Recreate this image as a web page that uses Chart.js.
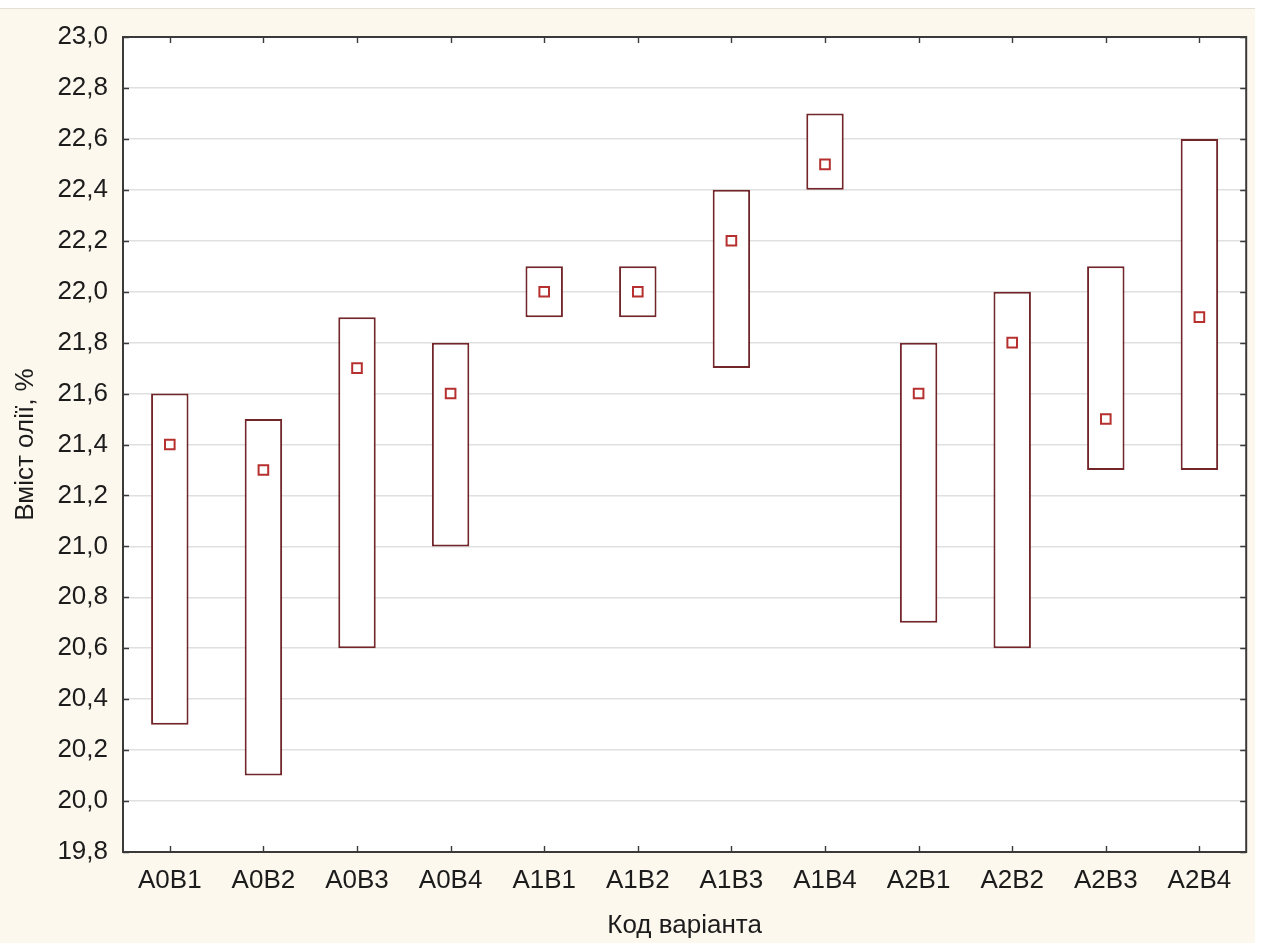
<!DOCTYPE html>
<html>
<head>
<meta charset="utf-8">
<script src="https://cdn.jsdelivr.net/npm/chart.js@4.4.1/dist/chart.umd.min.js"></script>
<style>
  html, body { margin: 0; padding: 0; background: #ffffff; }
  #panel {
    position: absolute; left: 0; top: 8px;
    width: 1255px; height: 935px;
    background: #fdf8ee;
    border-top: 1px solid #e2dfd8;
  }
  #panel canvas { display: block; }
</style>
</head>
<body>
<div id="panel"><canvas id="chart" width="1255" height="934"></canvas></div>
<script>
// Variant codes along the horizontal axis
const categories = ['A0B1','A0B2','A0B3','A0B4','A1B1','A1B2','A1B3','A1B4','A2B1','A2B2','A2B3','A2B4'];
// Mean oil content, %
const means = [21.4, 21.3, 21.7, 21.6, 22.0, 22.0, 22.2, 22.5, 21.6, 21.8, 21.5, 21.9];
// Lower and upper bounds of each box, %
const lows  = [20.3, 20.1, 20.6, 21.0, 21.9, 21.9, 21.7, 22.4, 20.7, 20.6, 21.3, 21.3];
const highs = [21.6, 21.5, 21.9, 21.8, 22.1, 22.1, 22.4, 22.7, 21.8, 22.0, 22.1, 22.6];
// Value axis range and step
const yMin = 19.8, yMax = 23.0, yStep = 0.2;

const fontFamily = '"Liberation Sans", Arial, sans-serif';
const textColor = '#1c1c1c';
const axisColor = '#3a3a3a';

// White plot background behind grid and boxes
const plotBgPlugin = {
  id: 'plotBg',
  beforeDraw(chart) {
    const { ctx, chartArea: a } = chart;
    ctx.save();
    ctx.fillStyle = '#ffffff';
    ctx.fillRect(a.left, a.top, a.right - a.left, a.bottom - a.top);
    ctx.restore();
  }
};

// Frame around the plot with short inward tick marks on all four sides
const framePlugin = {
  id: 'frame',
  afterDatasetsDraw(chart) {
    const { ctx, chartArea: a, scales } = chart;
    const len = 6;
    ctx.save();
    ctx.strokeStyle = axisColor;
    ctx.lineWidth = 1.4;
    ctx.beginPath();
    scales.x.ticks.forEach((t, i) => {
      const px = Math.round(scales.x.getPixelForTick(i)) + 0.5;
      ctx.moveTo(px, a.bottom); ctx.lineTo(px, a.bottom - len);
      ctx.moveTo(px, a.top); ctx.lineTo(px, a.top + len);
    });
    scales.y.ticks.forEach((t, i) => {
      const py = Math.round(scales.y.getPixelForTick(i)) + 0.5;
      ctx.moveTo(a.left, py); ctx.lineTo(a.left + len, py);
      ctx.moveTo(a.right, py); ctx.lineTo(a.right - len, py);
    });
    ctx.stroke();
    ctx.lineWidth = 2;
    ctx.strokeRect(a.left, a.top, a.right - a.left, a.bottom - a.top);
    ctx.restore();
  }
};

new Chart(document.getElementById('chart'), {
  type: 'bar',
  data: {
    labels: categories,
    datasets: [
      {
        type: 'line',
        label: 'mean',
        data: means,
        showLine: false,
        pointStyle: 'rect',
        pointRadius: 6.8,
        pointBorderWidth: 2,
        pointBorderColor: '#b5302e',
        pointBackgroundColor: '#ffffff',
        order: 0
      },
      {
        label: 'range',
        data: lows.map((lo, i) => [lo, highs[i]]),
        backgroundColor: '#ffffff',
        borderColor: '#72262a',
        borderWidth: 2,
        borderSkipped: false,
        categoryPercentage: 1.0,
        barPercentage: 0.4,
        order: 1
      }
    ]
  },
  plugins: [plotBgPlugin, framePlugin],
  options: {
    responsive: false,
    animation: false,
    devicePixelRatio: 1,
    layout: { padding: { left: 0, top: 26, right: 4, bottom: 0 } },
    plugins: { legend: { display: false }, tooltip: { enabled: false } },
    scales: {
      x: {
        grid: { display: false, drawTicks: false },
        border: { display: false },
        ticks: { color: textColor, font: { family: fontFamily, size: 26 }, padding: 13, maxRotation: 0 },
        title: {
          display: true, text: 'Код варіанта', color: textColor,
          font: { family: fontFamily, size: 26 }, padding: { top: 0, bottom: 2 }
        },
        afterFit(scale) { scale.height = 91; }
      },
      y: {
        min: yMin, max: yMax,
        grid: { color: '#e0e0e0', lineWidth: 1.5, drawTicks: false },
        border: { display: false },
        ticks: {
          stepSize: yStep, color: textColor, padding: 15,
          font: { family: fontFamily, size: 26, lineHeight: 1.0 },
          callback: v => v.toFixed(1).replace('.', ',')
        },
        title: {
          display: true, text: 'Вміст олії, %', color: textColor,
          font: { family: fontFamily, size: 26 }, padding: { top: 10, bottom: 0 }
        },
        afterFit(scale) { scale.width = 123; }
      }
    }
  }
});
</script>
</body>
</html>
